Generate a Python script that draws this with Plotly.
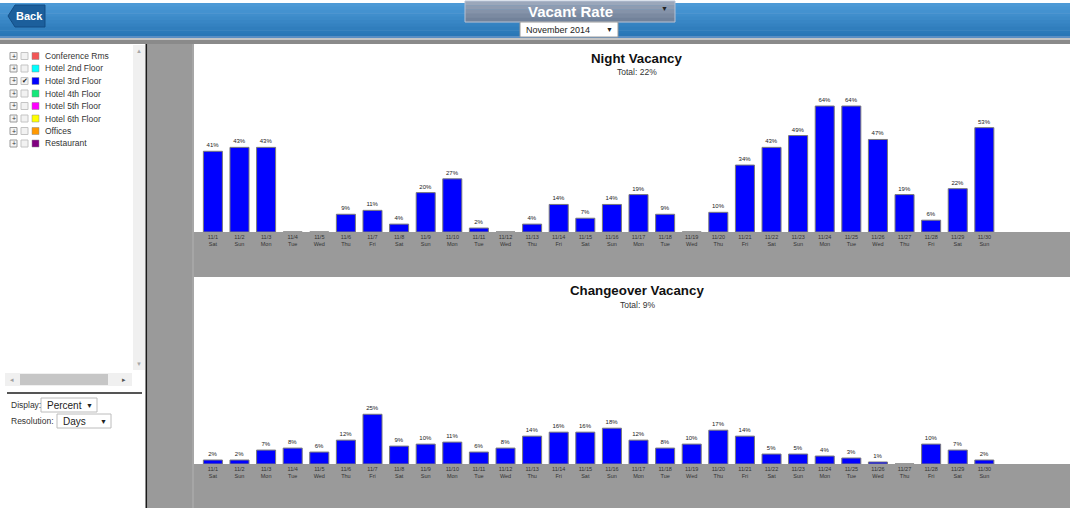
import plotly.graph_objects as go

# ---- data -------------------------------------------------------------
dates = ["11/%d" % d for d in range(1, 31)]
weekdays = ["Sat", "Sun", "Mon", "Tue", "Wed", "Thu", "Fri"] * 4 + ["Sat", "Sun"]
night_vacancy = [41, 43, 43, 0, 0, 9, 11, 4, 20, 27, 2, 0, 4, 14, 7, 14,
                 19, 9, 0, 10, 34, 43, 49, 64, 64, 47, 19, 6, 22, 53]
changeover_vacancy = [2, 2, 7, 8, 6, 12, 25, 9, 10, 11, 6, 8, 14, 16, 16, 18,
                      12, 8, 10, 17, 14, 5, 5, 4, 3, 1, 0, 10, 7, 2]
night_total = "22%"
changeover_total = "9%"
areas = ["Conference Rms", "Hotel 2nd Floor", "Hotel 3rd Floor", "Hotel 4th Floor",
         "Hotel 5th Floor", "Hotel 6th Floor", "Offices", "Restaurant"]
area_colors = ["#f25555", "#00ffff", "#0000ff", "#14e87a",
               "#ff00ff", "#ffff00", "#ff9900", "#800080"]
selected_area = "Hotel 3rd Floor"

W, H = 1070, 508
FONT = "Arial, Liberation Sans, sans-serif"


def px(x):
    return x / W


def py(y):
    return 1 - y / H


shapes = []
annotations = []


def rect(x0, y0, x1, y1, fill, line=None, lw=0, layer="below"):
    shapes.append(dict(type="rect", xref="paper", yref="paper",
                       x0=px(x0), x1=px(x1), y0=py(y1), y1=py(y0),
                       fillcolor=fill, layer=layer,
                       line=dict(color=line or fill, width=lw)))


def text(x, y, s, size=8, color="#333", bold=False, anchor="center", family=FONT):
    if bold:
        s = "<b>%s</b>" % s
    annotations.append(dict(xref="paper", yref="paper", x=px(x), y=py(y), text=s,
                            showarrow=False, xanchor=anchor, yanchor="middle",
                            font=dict(size=size, color=color, family=family)))


# ---- header bar -------------------------------------------------------
blues = ["#4d9ad6", "#4896d3", "#4492d0", "#408ecc", "#3c8ac8", "#3886c5",
         "#3482c1", "#307ebd", "#2c7ab9", "#2a77b6"]
top, bottom = 3, 37
step = (bottom - top) / len(blues)
for i, c in enumerate(blues):
    rect(0, top + i * step, W, top + (i + 1) * step + 0.5, c)
rect(0, 36, W, 38, "#5b8fc4")
rect(0, 38, W, 40, "#c4c4c4")
rect(0, 40, W, 44, "#8a8a8a")

# back button
shapes.append(dict(type="path", xref="paper", yref="paper", layer="below",
                   path="M %f %f L %f %f L %f %f L %f %f L %f %f Z" % (
                       px(8), py(16), px(15), py(5), px(45), py(5),
                       px(45), py(27), px(15), py(27)),
                   fillcolor="#1c5f9c", line=dict(color="#134d85", width=1)))
text(29, 16, "Back", size=11, color="white", bold=True)

# report selector
sel_cols = ["#9ba7ba", "#8f9cb1", "#8593a9", "#7b8aa1", "#72829a"]
for i, c in enumerate(sel_cols):
    rect(465, 1 + i * 4.2, 675, 1 + (i + 1) * 4.2 + 0.3, c)
rect(465, 1, 675, 22, "rgba(0,0,0,0)", line="#b5c2d6", lw=1)
text(570, 12, "Vacant Rate", size=15, color="white", bold=True)
text(664, 9, "▼", size=7, color="#222")

# month selector
rect(520, 22, 618, 37, "white", line="#9a9a9a", lw=1)
text(524, 29.5, "November 2014", size=9, color="#222", anchor="left")
text(609, 29.5, "▼", size=7, color="#222")

# ---- side panel -------------------------------------------------------
rect(133, 45, 145, 370, "#f0f0f0")
text(139, 51, "▲", size=6, color="#a8a8a8")
text(139, 364, "▼", size=6, color="#a8a8a8")

row_y = [56, 68.5, 81, 93.5, 106, 118.5, 131, 143.5]
for name, col, yy in zip(areas, area_colors, row_y):
    rect(10, yy - 3.5, 17, yy + 3.5, "#f4f4f4", line="#9a9a9a", lw=1)
    text(13.5, yy, "+", size=7, color="#333")
    rect(21, yy - 3.5, 28, yy + 3.5, "#f2f2f2", line="#c4c4c4", lw=1)
    if name == selected_area:
        text(24.5, yy, "✔", size=7, color="#222")
    rect(32, yy - 3.5, 39, yy + 3.5, col, line="#888", lw=0.5)
    text(43, yy, name, size=8.5, color="#333", anchor="left")

# horizontal scroll bar
rect(5, 373, 132, 386, "#f0f0f0")
rect(20, 374, 108, 385, "#c6c6c6")
text(12, 379.5, "◂", size=7, color="#a0a0a0")
text(124, 379.5, "▸", size=7, color="#555")
rect(7, 392, 142, 394, "#555555")

# display options
text(9, 405, "Display:", size=8.5, color="#333", anchor="left")
rect(41, 398, 97, 412, "white", line="#bcbcbc", lw=1)
text(45, 405, "Percent", size=10, color="#222", anchor="left")
text(89, 405, "▼", size=7, color="#222")
text(9, 421, "Resolution:", size=8.5, color="#333", anchor="left")
rect(57, 414, 111, 428, "white", line="#bcbcbc", lw=1)
text(61, 421, "Days", size=10, color="#222", anchor="left")
text(103, 421, "▼", size=7, color="#222")

# ---- chart area background ------------------------------------------
shapes.append(dict(type="line", xref="paper", yref="paper", layer="below",
                   x0=px(146.5), x1=px(146.5), y0=py(508), y1=py(44),
                   line=dict(color="#1a1a1a", width=2)))
rect(147.5, 44, 194, 508, "#9a9a9a")
rect(192, 44, 194, 508, "#a6a6a6")
rect(194, 232, W, 277, "#9a9a9a")
rect(194, 464, W, 508, "#9a9a9a")

# ---- bar charts -------------------------------------------------------
ticktext = ["%s<br>%s" % (d, w) for d, w in zip(dates, weekdays)]
xrange_ = [-0.71, 32.22]


def bars(values, xa, ya):
    return go.Bar(x=list(range(len(dates))), y=values, xaxis=xa, yaxis=ya,
                  marker=dict(color="#0000ff", line=dict(color="#7a7a7a", width=1)),
                  text=[("%d%%" % v) if v > 0 else "" for v in values],
                  textposition="outside", cliponaxis=False, constraintext="none",
                  textfont=dict(size=6, color="#222", family=FONT),
                  hoverinfo="skip", showlegend=False)


fig = go.Figure([bars(night_vacancy, "x", "y"), bars(changeover_vacancy, "x2", "y2")])

axis_x = dict(range=xrange_, tickmode="array", tickvals=list(range(len(dates))),
              ticktext=ticktext, showgrid=False, zeroline=False, showline=False,
              ticks="", tickfont=dict(size=5.5, color="#333", family=FONT),
              fixedrange=True)
axis_y = dict(showgrid=False, zeroline=False, showline=False, showticklabels=False,
              ticks="", fixedrange=True)

fig.update_layout(
    width=W, height=H, margin=dict(l=0, r=0, t=0, b=0),
    paper_bgcolor="white", plot_bgcolor="white", bargap=0.285,
    xaxis=dict(axis_x, domain=[px(194), 1], anchor="y"),
    yaxis=dict(axis_y, domain=[py(232), py(45)], range=[0, 95], anchor="x"),
    xaxis2=dict(axis_x, domain=[px(194), 1], anchor="y2"),
    yaxis2=dict(axis_y, domain=[py(464), py(277)], range=[0, 94], anchor="x2"),
    shapes=shapes,
)

# chart titles
text(637, 58, "Night Vacancy", size=13.3, color="#111", bold=True)
text(637, 72.5, "Total: " + night_total, size=8.5, color="#333")
text(637, 290.5, "Changeover Vacancy", size=13.3, color="#111", bold=True)
text(637, 304.5, "Total: " + changeover_total, size=8.5, color="#333")

fig.update_layout(annotations=annotations)
fig.write_html("out.html")
